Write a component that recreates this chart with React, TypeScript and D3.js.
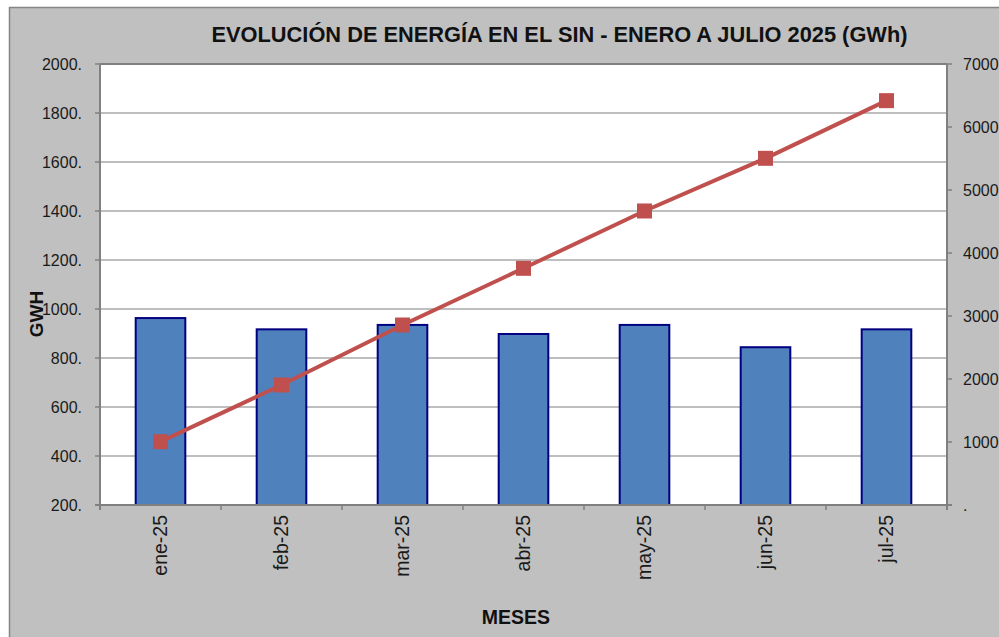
import React from "react";
import * as d3 from "d3";

const months = ["ene-25", "feb-25", "mar-25", "abr-25", "may-25", "jun-25", "jul-25"];
const monthlyGWh = [963, 917, 935, 898, 935, 844, 917];
const cumulativeGWh = [1005, 1905, 2857, 3757, 4667, 5503, 6418];
const leftTicks = [200, 400, 600, 800, 1000, 1200, 1400, 1600, 1800, 2000];
const rightTicks = [0, 1000, 2000, 3000, 4000, 5000, 6000, 7000];
const title = "EVOLUCIÓN DE ENERGÍA EN EL SIN - ENERO A JULIO 2025 (GWh)";

const W = 999;
const H = 637;
const plot = { left: 100, right: 947, top: 64, bottom: 505 };
const FONT = "'Liberation Sans', Arial, sans-serif";

export default function App() {
  const x = d3.scaleBand<string>().domain(months).range([plot.left, plot.right]).paddingInner(0.59).paddingOuter(0.295);
  const xb = d3.scaleBand<string>().domain(months).range([plot.left, plot.right]);
  const yL = d3.scaleLinear().domain([200, 2000]).range([plot.bottom, plot.top]);
  const yR = d3.scaleLinear().domain([0, 7000]).range([plot.bottom, plot.top]);
  const line = d3
    .line<number>()
    .x((_, i) => (xb(months[i]) as number) + xb.bandwidth() / 2)
    .y((d) => yR(d));

  const boundaries = months.slice(1).map((m) => xb(m) as number);

  return (
    <svg width={W} height={H} style={{ position: "absolute", left: 0, top: 0 }} fontFamily={FONT}>
      <rect x={0} y={0} width={W} height={H} fill="#ffffff" />
      <rect x={9.5} y={7.5} width={W} height={H} fill="#c0c0c0" stroke="#858585" strokeWidth={1.5} />
      <rect x={plot.left} y={plot.top} width={plot.right - plot.left} height={plot.bottom - plot.top} fill="#ffffff" />
      {leftTicks.slice(1, -1).map((t) => (
        <line key={"g" + t} x1={plot.left} x2={plot.right} y1={yL(t)} y2={yL(t)} stroke="#a8a8a8" strokeWidth={1.5} />
      ))}
      <line x1={plot.left} x2={plot.right} y1={plot.top} y2={plot.top} stroke="#808080" strokeWidth={2} />
      {monthlyGWh.map((v, i) => (
        <rect
          key={"b" + i}
          x={x(months[i])}
          y={yL(v)}
          width={x.bandwidth()}
          height={yL(200) - yL(v)}
          fill="#4f81bd"
          stroke="#000080"
          strokeWidth={2}
        />
      ))}
      <line x1={plot.left} x2={plot.left} y1={plot.top} y2={plot.bottom + 5} stroke="#808080" strokeWidth={2} />
      <line x1={plot.right} x2={plot.right} y1={plot.top} y2={plot.bottom + 5} stroke="#808080" strokeWidth={2} />
      <line x1={plot.left - 5} x2={plot.right + 5} y1={plot.bottom} y2={plot.bottom} stroke="#808080" strokeWidth={2} />
      {leftTicks.map((t) => (
        <g key={"l" + t}>
          <line x1={plot.left - 5} x2={plot.left} y1={yL(t)} y2={yL(t)} stroke="#808080" strokeWidth={1.5} />
          <text x={82} y={yL(t)} dy="0.35em" textAnchor="end" fontSize={16} fill="#1a1a1a">
            {t + "."}
          </text>
        </g>
      ))}
      {rightTicks.map((t) => (
        <g key={"r" + t}>
          <line x1={plot.right} x2={plot.right + 5} y1={yR(t)} y2={yR(t)} stroke="#808080" strokeWidth={1.5} />
          <text x={963} y={yR(t)} dy="0.35em" textAnchor="start" fontSize={16} fill="#1a1a1a">
            {t === 0 ? "." : String(t)}
          </text>
        </g>
      ))}
      {boundaries.map((b, i) => (
        <line key={"t" + i} x1={b} x2={b} y1={plot.bottom} y2={plot.bottom + 5} stroke="#808080" strokeWidth={1.5} />
      ))}
      {months.map((m) => {
        const cx = (xb(m) as number) + xb.bandwidth() / 2;
        return (
          <text
            key={"m" + m}
            transform={`translate(${cx + 6.8},515) rotate(-90)`}
            textAnchor="end"
            fontSize={19.5}
            fill="#1a1a1a"
          >
            {m}
          </text>
        );
      })}
      <path d={line(cumulativeGWh) || ""} fill="none" stroke="#c0504d" strokeWidth={4} />
      {cumulativeGWh.map((v, i) => {
        const cx = (xb(months[i]) as number) + xb.bandwidth() / 2;
        return <rect key={"p" + i} x={cx - 7.5} y={yR(v) - 7.5} width={15} height={15} fill="#c0504d" />;
      })}
      <text x={559.5} y={42} textAnchor="middle" fontSize={21.8} fontWeight="bold" fill="#111">
        {title}
      </text>
      <text transform={`translate(43,314) rotate(-90)`} textAnchor="middle" fontSize={19} fontWeight="bold" fill="#111">
        GWH
      </text>
      <text x={516} y={624} textAnchor="middle" fontSize={19.5} fontWeight="bold" fill="#111">
        MESES
      </text>
    </svg>
  );
}
